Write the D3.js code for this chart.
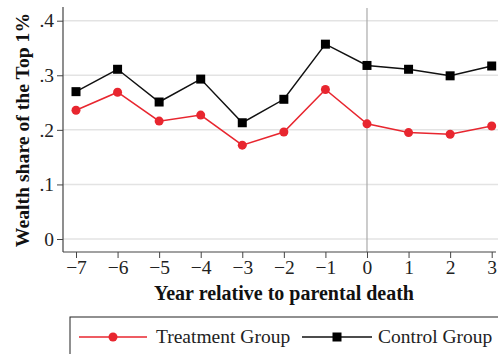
<!DOCTYPE html>
<html><head><meta charset="utf-8">
<script src="https://cdn.jsdelivr.net/npm/d3@7"></script>
<style>body{margin:0;background:#fff}svg{display:block}</style>
</head><body><svg id="c" width="498" height="354"></svg>
<script>
const years = [-7,-6,-5,-4,-3,-2,-1,0,1,2,3];
const treatment = [0.236,0.269,0.216,0.227,0.172,0.196,0.274,0.211,0.195,0.192,0.207];
const control = [0.270,0.311,0.251,0.293,0.213,0.256,0.357,0.318,0.311,0.299,0.317];
const yTicks = [0,0.1,0.2,0.3,0.4];
const yTickLabels = ["0",".1",".2",".3",".4"];
const seriesNames = ["Treatment Group","Control Group"];

(function(){
const svg = d3.select("#c");
const font = "'Liberation Serif','Times New Roman',serif";
const x = d3.scaleLinear().domain([-7,3]).range([76,491.7]);
const y = d3.scaleLinear().domain([0,0.4]).range([239,20.7]);
const pLeft = 63, pBottom = 252, pTop = 7, pRight = 498;

svg.append("g").selectAll("line").data(yTicks).join("line")
  .attr("x1",pLeft).attr("x2",pRight).attr("y1",d=>y(d)).attr("y2",d=>y(d))
  .attr("stroke","#e3e3e3").attr("stroke-width",1.5);

svg.append("line").attr("x1",x(0)).attr("x2",x(0)).attr("y1",pTop+1).attr("y2",pBottom)
  .attr("stroke","#aaa").attr("stroke-width",1.2);

const yAxis = d3.axisLeft(y).tickValues(yTicks).tickFormat((d,i)=>yTickLabels[i]).tickSize(6).tickPadding(3);
const gy = svg.append("g").attr("transform",`translate(${pLeft},0)`).call(yAxis);
gy.select(".domain").remove();
gy.append("line").attr("x1",0).attr("x2",0).attr("y1",pTop).attr("y2",pBottom).attr("stroke","#444").attr("stroke-width",1.2);
gy.selectAll(".tick line").attr("stroke","#444");
gy.selectAll("text").attr("font-family",font).attr("font-size",19.5).attr("fill","#222");

const xAxis = d3.axisBottom(x).tickValues(years).tickFormat(d=>d<0?"\u2212"+(-d):d).tickSize(6).tickPadding(2);
const gx = svg.append("g").attr("transform",`translate(0,${pBottom})`).call(xAxis);
gx.select(".domain").remove();
gx.append("line").attr("x1",pLeft).attr("x2",496).attr("y1",0).attr("y2",0).attr("stroke","#444").attr("stroke-width",1.2);
gx.selectAll(".tick line").attr("stroke","#444");
gx.selectAll("text").attr("font-family",font).attr("font-size",19.5).attr("fill","#222");

svg.append("text").attr("x",284).attr("y",300).attr("text-anchor","middle")
  .attr("font-family",font).attr("font-weight","bold").attr("font-size",20).attr("fill","#111")
  .text("Year relative to parental death");
svg.append("text").attr("transform","translate(29,130) rotate(-90)").attr("text-anchor","middle")
  .attr("font-family",font).attr("font-weight","bold").attr("font-size",19.7).attr("fill","#111")
  .text("Wealth share of the Top 1%");

const red = "#e8262f";
const line = d3.line().x((d,i)=>x(years[i])).y(d=>y(d));
svg.append("path").datum(control).attr("d",line).attr("fill","none").attr("stroke","#111").attr("stroke-width",1.5);
svg.append("path").datum(treatment).attr("d",line).attr("fill","none").attr("stroke",red).attr("stroke-width",1.5);
svg.append("g").selectAll("rect").data(control).join("rect")
  .attr("x",(d,i)=>x(years[i])-4.5).attr("y",d=>y(d)-4.5).attr("width",9).attr("height",9).attr("fill","#000");
svg.append("g").selectAll("circle").data(treatment).join("circle")
  .attr("cx",(d,i)=>x(years[i])).attr("cy",d=>y(d)).attr("r",4.5).attr("fill",red);

const lg = svg.append("g");
lg.append("rect").attr("x",70).attr("y",317).attr("width",440).attr("height",50).attr("fill","none").attr("stroke","#222").attr("stroke-width",1);
const ly = 337;
lg.append("line").attr("x1",79).attr("x2",147).attr("y1",ly).attr("y2",ly).attr("stroke",red).attr("stroke-width",1.5);
lg.append("circle").attr("cx",113).attr("cy",ly).attr("r",4.5).attr("fill",red);
lg.append("text").attr("x",156).attr("y",ly+6).attr("font-family",font).attr("font-size",19.5).attr("fill","#222").text(seriesNames[0]);
lg.append("line").attr("x1",302).attr("x2",372).attr("y1",ly).attr("y2",ly).attr("stroke","#111").attr("stroke-width",1.5);
lg.append("rect").attr("x",337-4.5).attr("y",ly-4.5).attr("width",9).attr("height",9).attr("fill","#000");
lg.append("text").attr("x",378).attr("y",ly+6).attr("font-family",font).attr("font-size",19.5).attr("fill","#222").text(seriesNames[1]);
})();
</script></body></html>
